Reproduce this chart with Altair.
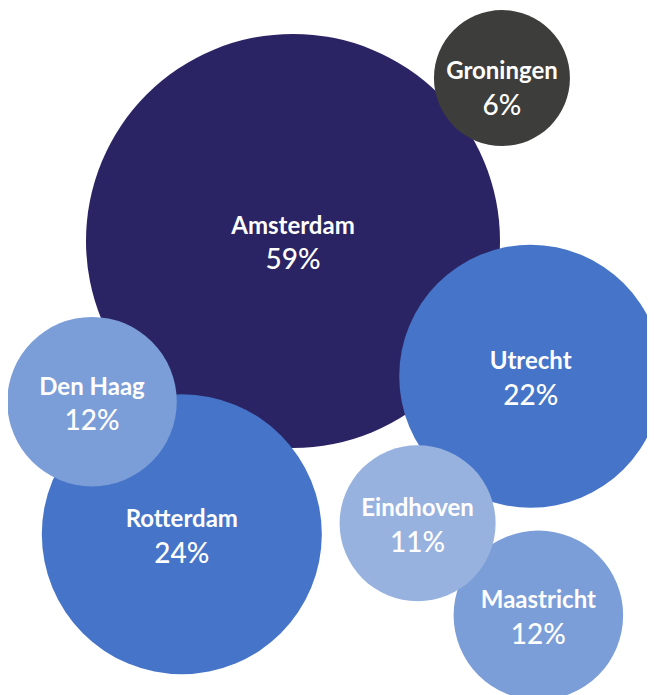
import altair as alt
import pandas as pd

# data
cities = ["Amsterdam", "Groningen", "Utrecht", "Den Haag", "Rotterdam", "Eindhoven", "Maastricht"]
shares = [59, 6, 22, 12, 24, 11, 12]
colors = ["#2B2464", "#3D3D3B", "#4574C8", "#7B9DD8", "#4574C8", "#98B2E0", "#7B9DD8"]

# packed bubble layout (percent of plot width / height, measured from top-left)
bubble_x = [44.6, 77.3, 81.8, 13.15, 27.2, 64.1, 83.0]
bubble_y = [33.9, 10.2, 53.6, 57.3, 76.6, 75.0, 88.4]
label_y = [33.9, 11.4, 53.6, 57.3, 76.6, 75.0, 88.4]

df = pd.DataFrame({
    "city": cities,
    "share": shares,
    "bx": bubble_x,
    "by": bubble_y,
    "ly": label_y,
})
df["pct"] = df["share"].astype(str) + "%"

W, H = 639, 687
xs = alt.Scale(domain=[0, 100], range=[0, W])
ys = alt.Scale(domain=[0, 100], range=[0, H])

size_scale = alt.Scale(
    type="linear",
    domain=[6, 11, 12, 22, 24, 59],
    range=[18496, 24336, 28730, 69169, 78400, 171396],
)

base = alt.Chart(df)

bubbles = base.mark_circle(opacity=1).encode(
    x=alt.X("bx:Q", scale=xs, axis=None),
    y=alt.Y("by:Q", scale=ys, axis=None),
    size=alt.Size("share:Q", scale=size_scale, legend=None),
    color=alt.Color("city:N", scale=alt.Scale(domain=cities, range=colors), legend=None),
    order=alt.Order("share:Q", sort="descending"),
)

names = base.mark_text(
    font="Lato", fontWeight=700, fontSize=24, color="white",
    baseline="alphabetic", align="center", dy=-7,
).encode(
    x=alt.X("bx:Q", scale=xs, axis=None),
    y=alt.Y("ly:Q", scale=ys, axis=None),
    text="city:N",
)

pcts = base.mark_text(
    font="Lato", fontWeight=500, fontSize=28, color="white",
    baseline="alphabetic", align="center", dy=28.5,
).encode(
    x=alt.X("bx:Q", scale=xs, axis=None),
    y=alt.Y("ly:Q", scale=ys, axis=None),
    text="pct:N",
)

chart = alt.layer(bubbles, names, pcts).properties(
    width=W, height=H,
    autosize=alt.AutoSizeParams(type="none"),
    padding=0,
    background="white",
).configure_view(stroke=None, strokeWidth=0)

chart.save("out.html", embed_options={"renderer": "svg", "actions": False})
